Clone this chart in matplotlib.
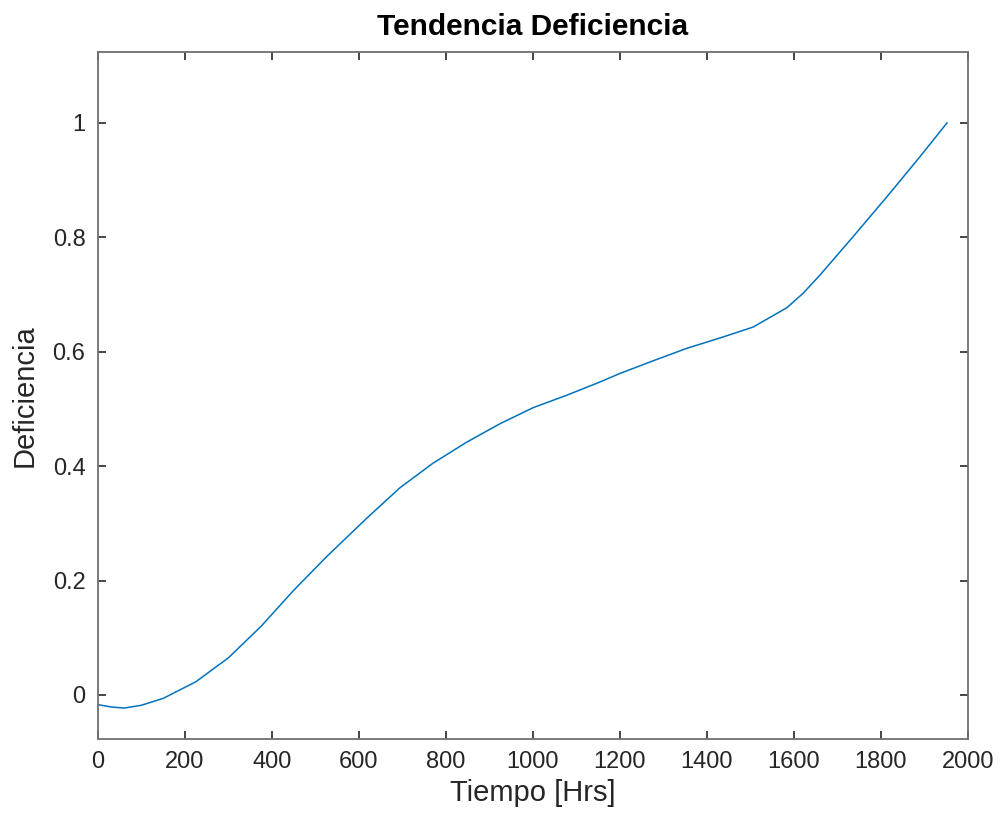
import matplotlib
matplotlib.use("Agg")
import matplotlib.pyplot as plt

# Values
hours = [0, 30, 60, 100, 150, 225, 300, 375, 450, 526, 618, 694, 770, 848,
         924, 1000, 1078, 1154, 1200, 1276, 1354, 1430, 1506, 1584, 1621,
         1660, 1736, 1814, 1890, 1952]
deficiencia = [-0.017, -0.021, -0.023, -0.018, -0.006, 0.023, 0.065, 0.120,
               0.183, 0.242, 0.309, 0.362, 0.405, 0.442, 0.474, 0.502, 0.524,
               0.547, 0.562, 0.584, 0.606, 0.624, 0.643, 0.677, 0.702, 0.734,
               0.801, 0.871, 0.941, 1.000]

x_ticks = [0, 200, 400, 600, 800, 1000, 1200, 1400, 1600, 1800, 2000]
y_ticks = [0, 0.2, 0.4, 0.6, 0.8, 1]
y_tick_labels = ["0", "0.2", "0.4", "0.6", "0.8", "1"]

plt.rcParams['font.family'] = ['Liberation Sans', 'DejaVu Sans']

fig = plt.figure(figsize=(10.01, 8.21), dpi=100)
ax = fig.add_axes([0.0979, 0.0999, 0.869, 0.8368])

ax.plot(hours, deficiencia, color='#0072BD', linewidth=1.1)

ax.set_xlim(0, 2000)
ax.set_ylim(-0.077, 1.124)
ax.set_xticks(x_ticks)
ax.set_xticklabels([str(t) for t in x_ticks])
ax.set_yticks(y_ticks)
ax.set_yticklabels(y_tick_labels)

for s in ax.spines.values():
    s.set_color('#707070')
    s.set_linewidth(1.3)

ax.tick_params(direction='in', length=6, width=1.2, color='#262626',
               top=True, right=True, labelsize=17, labelcolor='#262626')
ax.tick_params(axis='x', pad=9)
ax.tick_params(axis='y', pad=9)

ax.set_xlabel('Tiempo [Hrs]', fontsize=21, color='#262626', labelpad=4)
ax.set_ylabel('Deficiencia', fontsize=21, color='#262626', labelpad=10)
ax.set_title('Tendencia Deficiencia', fontsize=21.5, fontweight='bold',
             color='black', pad=12)

fig.savefig('out.png', dpi=100)
